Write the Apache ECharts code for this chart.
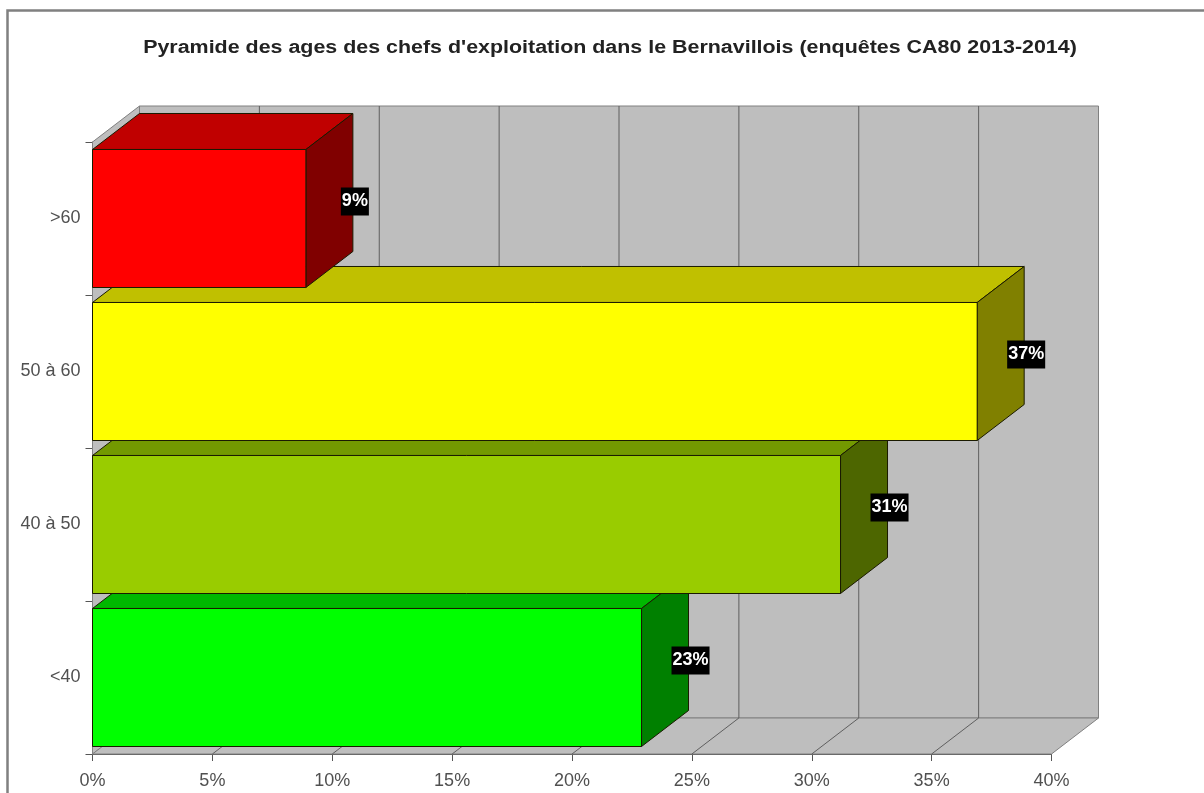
<!DOCTYPE html>
<html>
<head>
<meta charset="utf-8">
<style>html,body{margin:0;padding:0;background:#fff}#c{width:1204px;height:793px}</style>
<script src="https://cdn.jsdelivr.net/npm/echarts@6/dist/echarts.min.js"></script>
</head>
<body>
<div id="c"></div>
<script>
var categories = ['<40', '40 à 50', '50 à 60', '>60'];
var values = [22.9, 31.2, 36.9, 8.9];
var valueLabels = ['23%', '31%', '37%', '9%'];
var frontColors = ['#00ff00', '#99cc00', '#ffff00', '#ff0000'];
var topColors = ['#00b800', '#739900', '#c0c000', '#c00000'];
var sideColors = ['#008000', '#4d6600', '#808000', '#800000'];
var gridTicks = [0, 5, 10, 15, 20, 25, 30, 35, 40];
var titleText = "Pyramide des ages des chefs d'exploitation dans le Bernavillois (enquêtes CA80 2013-2014)";

var DX = 47, DY = -36;
var chart = echarts.init(document.getElementById('c'));

function poly(pts, fill, stroke, w) {
  return { type: 'polygon', shape: { points: pts }, style: { fill: fill, stroke: stroke, lineWidth: w } };
}

function renderWalls(params, api) {
  var x0 = api.coord([0, 0])[0], x1 = api.coord([40, 0])[0];
  var yb = params.coordSys.y + params.coordSys.height, yt = params.coordSys.y;
  var wall = '#bebebe', edge = '#808080';
  var kids = [
    poly([[x0, yb], [x0 + DX, yb + DY], [x0 + DX, yt + DY], [x0, yt]], wall, edge, 1),
    poly([[x0 + DX, yb + DY], [x1 + DX, yb + DY], [x1 + DX, yt + DY], [x0 + DX, yt + DY]], wall, edge, 1),
    poly([[x0, yb], [x1, yb], [x1 + DX, yb + DY], [x0 + DX, yb + DY]], wall, edge, 1)
  ];
  gridTicks.forEach(function (t) {
    if (t === 0 || t === 40) return;
    var x = api.coord([t, 0])[0];
    kids.push({ type: 'polyline', shape: { points: [[x, yb], [x + DX, yb + DY], [x + DX, yt + DY]] }, style: { fill: 'none', stroke: '#5f5f5f', lineWidth: 1 } });
  });
  return { type: 'group', children: kids };
}

function renderBar(params, api) {
  var i = api.value(0), val = api.value(1);
  var c = api.coord([val, i]);
  var size = api.size([0, 1])[1];
  var h = size * 0.902;
  var x0 = api.coord([0, i])[0], x1 = c[0];
  var yTop = c[1] - h / 2, yBot = c[1] + h / 2;
  return {
    type: 'group',
    children: [
      poly([[x0, yTop], [x0 + DX, yTop + DY], [x1 + DX, yTop + DY], [x1, yTop]], topColors[i], '#1a1a00', 1),
      poly([[x1, yTop], [x1 + DX, yTop + DY], [x1 + DX, yBot + DY], [x1, yBot]], sideColors[i], '#1a1a00', 1),
      { type: 'rect', shape: { x: x0, y: yTop, width: x1 - x0, height: yBot - yTop }, style: { fill: frontColors[i], stroke: '#1a1a00', lineWidth: 1 } },
      { type: 'text', z2: 100, style: {
          x: x1 + DX + 2, y: (yTop + yBot) / 2 + DY / 2 + 1,
          text: valueLabels[i], align: 'center', verticalAlign: 'middle',
          fill: '#fff', font: 'bold 18px "Liberation Sans"', backgroundColor: '#000', padding: [4, 1, 6, 1]
      } }
    ]
  };
}

chart.setOption({
  animation: false,
  backgroundColor: '#ffffff',
  graphic: [
    { type: 'rect', z: -10, silent: true, shape: { x: 7.5, y: 10.5, width: 1300, height: 900 }, style: { fill: '#fff', stroke: '#808080', lineWidth: 2.5 } },
    { type: 'text', z: 10, silent: true, x: 610, y: 48.5, scaleX: 1.19, style: {
        text: titleText, align: 'center', verticalAlign: 'middle',
        fill: '#222', font: 'bold 18px "Liberation Sans"'
    } }
  ],
  grid: { left: 92.5, right: 152.5, top: 142, bottom: 39, containLabel: false },
  xAxis: {
    type: 'value', min: 0, max: 40, interval: 5,
    axisLabel: { formatter: '{value}%', color: '#505050', fontFamily: 'Liberation Sans', fontSize: 18, margin: 18 },
    axisLine: { show: true, lineStyle: { color: '#555' } },
    axisTick: { show: true, length: 7, lineStyle: { color: '#555' } },
    splitLine: { show: false }
  },
  yAxis: {
    type: 'category', data: categories,
    axisLabel: { color: '#505050', fontFamily: 'Liberation Sans', fontSize: 18, margin: 12 },
    axisLine: { show: true, lineStyle: { color: '#555' } },
    axisTick: { show: true, length: 7, lineStyle: { color: '#555' } },
    splitLine: { show: false }
  },
  series: [
    { type: 'custom', coordinateSystem: 'cartesian2d', renderItem: renderWalls, data: [[0]], encode: { x: 0 }, silent: true, z: 1 },
    { type: 'custom', coordinateSystem: 'cartesian2d', renderItem: renderBar, z: 3,
      encode: { y: 0, x: 1 },
      data: values.map(function (v, i) { return [i, v]; }) }
  ]
});
</script>
</body>
</html>
